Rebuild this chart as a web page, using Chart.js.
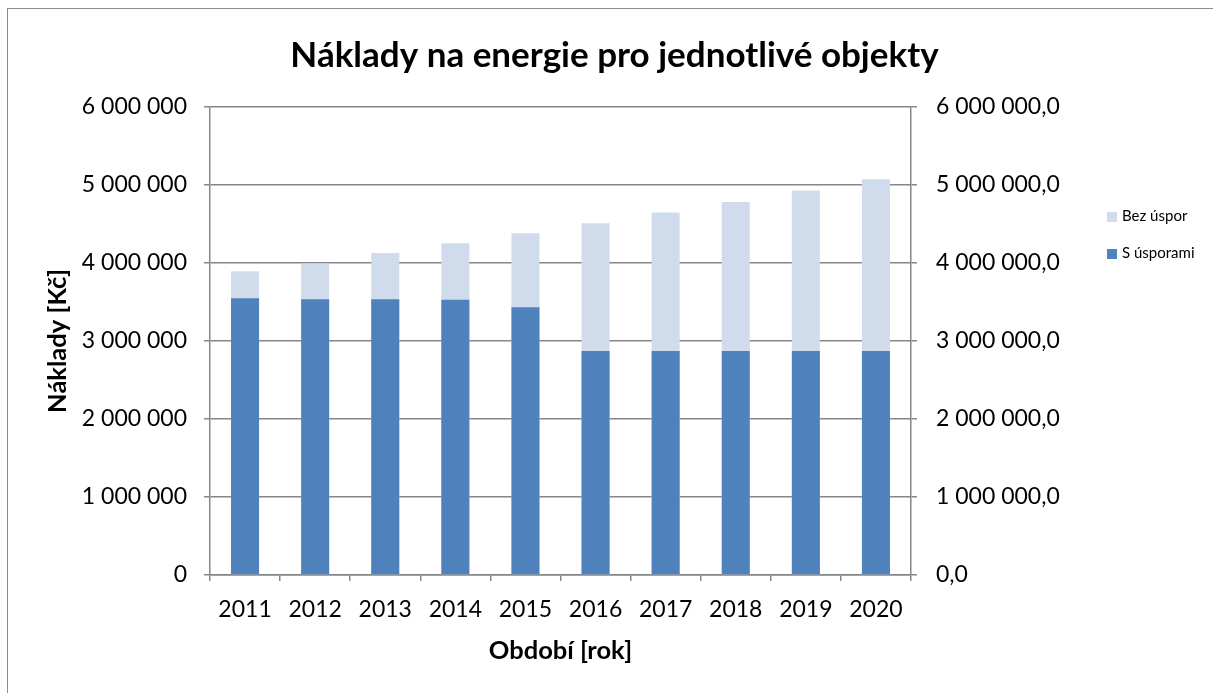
<!DOCTYPE html>
<html>
<head>
<meta charset="utf-8">
<script src="https://cdn.jsdelivr.net/npm/chart.js@4"></script>
<style>
  body { margin: 0; overflow: hidden; background: #fff; font-family: Lato, sans-serif; }
  #frame { position: absolute; left: 7px; top: 8px; width: 1213px; height: 700px; border: 1px solid #8c8c8c; }
  #chart { display: block; }
  .leg { position: absolute; left: 1107px; font-size: 15px; color: #000; line-height: 20px; }
  .leg span { display: inline-block; width: 10px; height: 10px; margin-right: 5px; vertical-align: -1px; }
</style>
</head>
<body>
<div id="frame"><canvas id="chart" width="1213" height="690"></canvas></div>
<div class="leg" style="top:205px"><span style="background:#d0dcec"></span>Bez úspor</div>
<div class="leg" style="top:242px"><span style="background:#4f81bd"></span>S úsporami</div>
<script>
const years = ['2011', '2012', '2013', '2014', '2015', '2016', '2017', '2018', '2019', '2020'];
const bezUspor = [3894000, 3995000, 4128000, 4253000, 4381000, 4509000, 4646000, 4782000, 4928000, 5073000];
const sUsporami = [3547000, 3535000, 3535000, 3530000, 3432000, 2872000, 2872000, 2872000, 2872000, 2872000];
const yMax = 6000000;
const yStep = 1000000;

function mezery(n) {
    return String(Math.round(n)).replace(/\B(?=(\d{3})+(?!\d))/g, ' ');
}

const seda = '#868686';

let ctx = document.getElementById('chart').getContext('2d');
let chart = new Chart(ctx, {
    type: 'bar',
    data: {
        labels: years,
        datasets: [{
            label: 'S úsporami',
            data: sUsporami,
            backgroundColor: '#4f81bd',
            grouped: false,
            barPercentage: 0.4,
            categoryPercentage: 1
        }, {
            label: 'Bez úspor',
            data: bezUspor,
            backgroundColor: '#d0dcec',
            grouped: false,
            barPercentage: 0.4,
            categoryPercentage: 1
        }]
    },
    options: {
        responsive: false,
        animation: false,
        layout: { padding: 0 },
        plugins: {
            legend: { display: false },
            tooltip: { enabled: false },
            title: {
                display: true,
                text: 'Náklady na energie pro jednotlivé objekty',
                color: '#000',
                font: { family: 'Lato', size: 35, weight: 'bold', lineHeight: 1.2 },
                padding: { top: 26, bottom: 30 }
            }
        },
        scales: {
            x: {
                afterFit: function (s) { s.height = 124; },
                grid: { drawOnChartArea: false, drawTicks: true, tickLength: 6, color: seda, lineWidth: 1.5, offset: true },
                border: { color: seda, width: 1.5 },
                ticks: { color: '#000', padding: 15, font: { family: 'Lato', size: 23, lineHeight: 1.2 } },
                title: {
                    display: true,
                    text: 'Období [rok]',
                    color: '#000',
                    font: { family: 'Lato', size: 25.5, weight: 'bold', lineHeight: 1.2 },
                    padding: { top: 0, bottom: 33 }
                }
            },
            y: {
                position: 'left',
                min: 0,
                max: yMax,
                afterFit: function (s) { s.width = 202; },
                grid: { color: seda, tickLength: 6, lineWidth: 1.5 },
                border: { color: seda, width: 1.5 },
                ticks: {
                    stepSize: yStep,
                    color: '#000',
                    padding: 17,
                    font: { family: 'Lato', size: 23, lineHeight: 1.2 },
                    callback: function (v) { return mezery(v); }
                },
                title: {
                    display: true,
                    text: 'Náklady [Kč]',
                    color: '#000',
                    font: { family: 'Lato', size: 25.5, weight: 'bold', lineHeight: 1.2 },
                    padding: { top: 34, bottom: 0 }
                }
            },
            y2: {
                position: 'right',
                min: 0,
                max: yMax,
                afterFit: function (s) { s.width = 310; },
                grid: { drawOnChartArea: false, color: seda, tickLength: 6, lineWidth: 1.5 },
                border: { color: seda, width: 1.5 },
                ticks: {
                    stepSize: yStep,
                    color: '#000',
                    padding: 19,
                    font: { family: 'Lato', size: 23, lineHeight: 1.2 },
                    callback: function (v) { return mezery(v) + ',0'; }
                }
            }
        }
    }
});
</script>
</body>
</html>
